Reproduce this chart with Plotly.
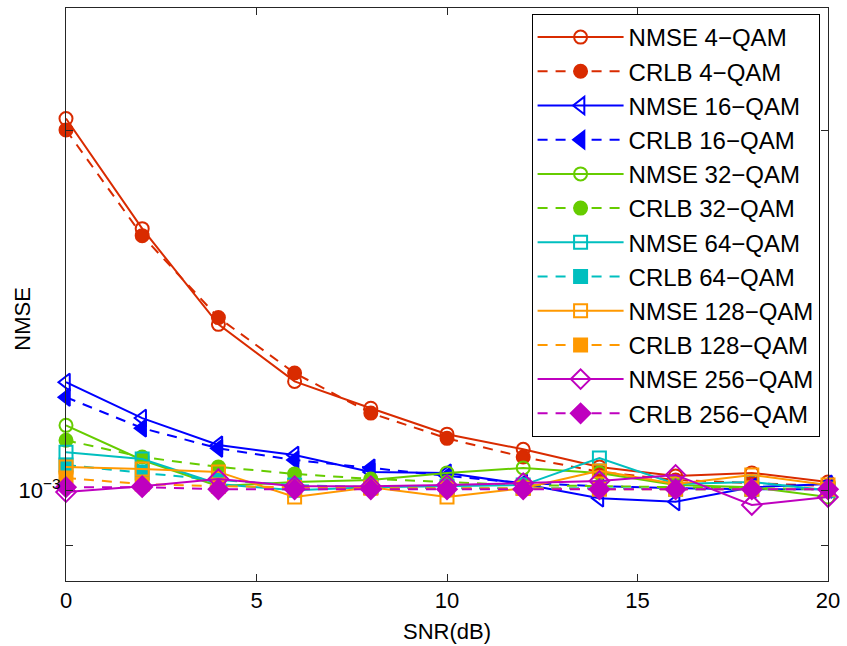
import plotly.graph_objects as go

# SNR grid (dB)
snr = [0, 2, 4, 6, 8, 10, 12, 14, 16, 18, 20]

# Measured NMSE and the corresponding CRLB for each modulation order
nmse_4qam = [2.045e-3, 1.655e-3, 1.377e-3, 1.234e-3, 1.172e-3, 1.115e-3, 1.083e-3, 1.047e-3, 1.029e-3, 1.035e-3, 1.017e-3]
crlb_4qam = [2.001e-3, 1.633e-3, 1.395e-3, 1.254e-3, 1.161e-3, 1.106e-3, 1.067e-3, 1.037e-3, 1.021e-3, 1.015e-3, 1.009e-3]

nmse_16qam = [1.232e-3, 1.150e-3, 1.092e-3, 1.071e-3, 1.037e-3, 1.035e-3, 1.013e-3, 0.986e-3, 0.979e-3, 1.007e-3, 1.013e-3]
crlb_16qam = [1.197e-3, 1.128e-3, 1.085e-3, 1.061e-3, 1.045e-3, 1.029e-3, 1.015e-3, 1.009e-3, 1.005e-3, 1.003e-3, 1.003e-3]

nmse_32qam = [1.134e-3, 1.061e-3, 1.009e-3, 1.017e-3, 1.021e-3, 1.035e-3, 1.045e-3, 1.035e-3, 1.011e-3, 1.007e-3, 0.988e-3]
crlb_32qam = [1.102e-3, 1.067e-3, 1.047e-3, 1.033e-3, 1.023e-3, 1.017e-3, 1.011e-3, 1.009e-3, 1.007e-3, 1.005e-3, 1.003e-3]

nmse_64qam = [1.077e-3, 1.063e-3, 1.013e-3, 1.001e-3, 1.007e-3, 1.009e-3, 1.011e-3, 1.065e-3, 1.013e-3, 1.017e-3, 1.001e-3]
crlb_64qam = [1.051e-3, 1.035e-3, 1.021e-3, 1.011e-3, 1.007e-3, 1.005e-3, 1.005e-3, 1.005e-3, 1.003e-3, 1.003e-3, 1.003e-3]

nmse_128qam = [1.047e-3, 1.043e-3, 1.037e-3, 0.988e-3, 1.007e-3, 0.988e-3, 1.005e-3, 1.039e-3, 1.013e-3, 1.031e-3, 1.011e-3]
crlb_128qam = [1.025e-3, 1.013e-3, 1.009e-3, 1.007e-3, 1.005e-3, 1.005e-3, 1.005e-3, 1.003e-3, 1.003e-3, 1.003e-3, 1.003e-3]

nmse_256qam = [0.9975e-3, 1.009e-3, 1.023e-3, 1.009e-3, 1.009e-3, 1.011e-3, 1.015e-3, 1.019e-3, 1.031e-3, 0.973e-3, 0.988e-3]
crlb_256qam = [1.007e-3, 1.007e-3, 1.003e-3, 1.003e-3, 1.003e-3, 1.003e-3, 1.003e-3, 1.003e-3, 1.003e-3, 1.003e-3, 1.003e-3]

# y-axis ticks (log scale): one labelled decade plus unlabelled minor ticks
y_tickvals = [1e-3]
y_ticktext = ["10<sup>−3</sup>"]
y_minor_tickvals = [9e-4, 2e-3]
x_tickvals = [0, 5, 10, 15, 20]

FONT = "Liberation Sans, Arial, Helvetica, sans-serif"

# (label, values, colour, marker symbol, dashed?)
series = [
    ("NMSE 4−QAM", nmse_4qam, "#d92b00", "circle-open", False),
    ("CRLB 4−QAM", crlb_4qam, "#d92b00", "circle", True),
    ("NMSE 16−QAM", nmse_16qam, "#0000ff", "triangle-left-open", False),
    ("CRLB 16−QAM", crlb_16qam, "#0000ff", "triangle-left", True),
    ("NMSE 32−QAM", nmse_32qam, "#66cc00", "circle-open", False),
    ("CRLB 32−QAM", crlb_32qam, "#66cc00", "circle", True),
    ("NMSE 64−QAM", nmse_64qam, "#00bfbf", "square-open", False),
    ("CRLB 64−QAM", crlb_64qam, "#00bfbf", "square", True),
    ("NMSE 128−QAM", nmse_128qam, "#ff9900", "square-open", False),
    ("CRLB 128−QAM", crlb_128qam, "#ff9900", "square", True),
    ("NMSE 256−QAM", nmse_256qam, "#bf00bf", "diamond-open", False),
    ("CRLB 256−QAM", crlb_256qam, "#bf00bf", "diamond", True),
]

fig = go.Figure()
for name, vals, color, symbol, dashed in series:
    size = 15 if ("triangle" in symbol or "diamond" in symbol) else 13
    fig.add_trace(go.Scatter(
        x=snr, y=vals, name=name, mode="lines+markers",
        cliponaxis=False,
        line=dict(color=color, width=2, dash="10px,8px" if dashed else "solid"),
        marker=dict(symbol=symbol, size=size, color=color,
                    line=dict(color=color, width=2)),
    ))

axis_common = dict(
    showgrid=False, zeroline=False, showline=True, mirror="ticks",
    linecolor="#262626", linewidth=1, ticks="inside", ticklen=7,
    tickcolor="#262626", tickwidth=1,
    tickfont=dict(family=FONT, size=22, color="#000000"),
)

fig.update_layout(
    width=847, height=646,
    margin=dict(l=66, r=17, t=7, b=65),
    paper_bgcolor="white", plot_bgcolor="white",
    font=dict(family=FONT, color="#000000"),
    xaxis=dict(range=[0, 20], tickvals=x_tickvals, **axis_common),
    yaxis=dict(type="log", range=[-3.0753, -2.597],
               tickvals=y_tickvals, ticktext=y_ticktext,
               minor=dict(tickvals=y_minor_tickvals, ticks="inside", ticklen=7,
                          tickcolor="#262626", tickwidth=1, showgrid=False),
               **axis_common),
    legend=dict(
        x=0.611, y=0.9895, xanchor="left", yanchor="top",
        bgcolor="white", bordercolor="#000000", borderwidth=1,
        font=dict(family=FONT, size=24, color="#000000"),
        tracegroupgap=0, itemwidth=86,
    ),
    annotations=[
        dict(text="SNR(dB)", xref="paper", yref="paper", x=0.5, y=-0.0889,
             xanchor="center", yanchor="middle", showarrow=False,
             font=dict(family=FONT, size=22, color="#000000")),
        dict(text="NMSE", xref="paper", yref="paper", x=-0.0576, y=0.458,
             xanchor="center", yanchor="middle", textangle=-90, showarrow=False,
             font=dict(family=FONT, size=22, color="#000000")),
    ],
)

fig.write_html("out.html")
